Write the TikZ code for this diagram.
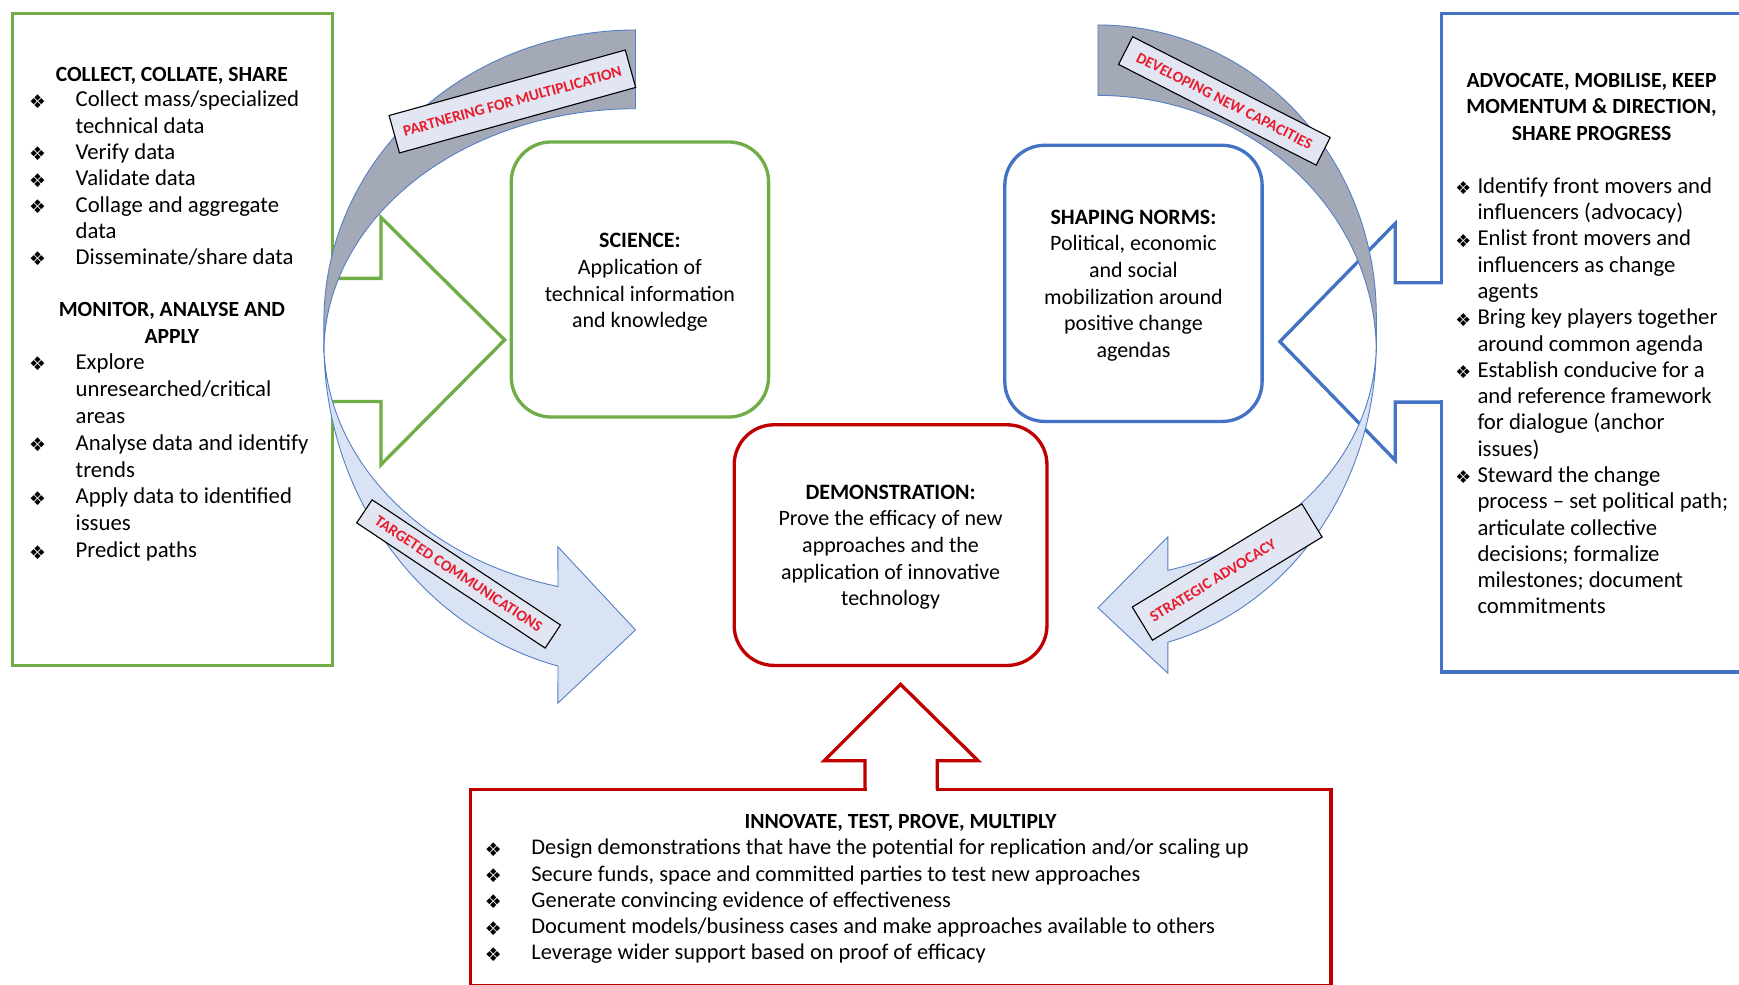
\documentclass[tikz,border=0pt]{standalone}
\usepackage{fontspec}
\setmainfont{Carlito}
\newfontfamily\symfont{DejaVu Sans}
\definecolor{cgreen}{RGB}{112,173,71}
\definecolor{cblue}{RGB}{68,114,196}
\definecolor{cred}{RGB}{192,0,0}
\definecolor{fblue}{RGB}{218,227,243}
\definecolor{fgray}{RGB}{163,169,183}
\definecolor{edgeblue}{RGB}{84,126,196}
\definecolor{lblfill}{RGB}{226,229,242}
\definecolor{lblred}{RGB}{232,28,44}
\newcommand\bul{\makebox[42pt][l]{\raisebox{-1.2pt}{\symfont\fontsize{17}{20}\selectfont ❖}}}
\newcommand\ind{\hspace*{42pt}}
\newcommand\bulr{\makebox[20pt][l]{\raisebox{-1.2pt}{\symfont\fontsize{16}{20}\selectfont ❖}}}
\newcommand\indr{\hspace*{20pt}}
\tikzset{
  bigbox/.style={draw=#1, line width=3pt, inner sep=0pt},
  rbox/.style={draw=#1, line width=3pt, rounded corners=36pt, align=center, inner sep=0pt,
    font=\fontsize{19.8}{24}\selectfont},
  hdr/.style={font=\bfseries\fontsize{19.5}{24}\selectfont, align=center, inner sep=0pt},
  lst/.style={font=\fontsize{20.5}{23.7}\selectfont, align=left, inner sep=0pt, anchor=north west},
  lbl/.style={draw=black, line width=1pt, fill=lblfill, inner sep=0pt, text=lblred,
    font=\bfseries\fontsize{14}{16}\selectfont},
  band/.style={draw=edgeblue, line width=0.8pt},
  blockarrow/.style={draw=#1, line width=3pt, line join=miter},
}
\begin{document}
\begin{tikzpicture}[x=1pt, y=-1pt]
\useasboundingbox (0,0) rectangle (1568,888);
\fill[white] (0,0) rectangle (1568,888);
\clip (0,0) rectangle (1568,888);

% big boxes
\node[bigbox=cgreen, minimum width=289, minimum height=588] (leftbox) at (155.5,306) {};
\node[bigbox=cblue, minimum width=270, minimum height=594] (rightbox) at (1435,309) {};
\node[bigbox=cred, minimum width=776, minimum height=177] (botbox) at (812,800.5) {};

% block arrows
\fill[white] (298,252.5) rectangle (302,360.5);
\draw[blockarrow=cgreen] (300,251) -- (343.5,251) -- (343.5,196) -- (455,306.5) -- (343.5,419) -- (343.5,362) -- (300,362);
\fill[white] (1298,256.5) rectangle (1302,361);
\draw[blockarrow=cblue] (1300,255) -- (1258,255) -- (1258,201.5) -- (1154,308) -- (1258,415) -- (1258,362.6) -- (1300,362.6);
\fill[white] (781.5,709) rectangle (843.5,715);
\draw[blockarrow=cred] (780,712) -- (780,686) -- (743,686) -- (812,617) -- (882,686) -- (845,686) -- (845,712);

% rounded boxes
\node[rbox=cgreen, minimum width=232, minimum height=248] (science) at (577,252)
  {\rule{0pt}{18.5pt}\textbf{SCIENCE:}\\Application of\\technical information\\and knowledge};
\node[rbox=cblue, minimum width=232, minimum height=249] (norms) at (1022,255.5)
  {\rule{0pt}{16.7pt}\textbf{SHAPING NORMS:}\\Political, economic\\and social\\mobilization around\\positive change\\agendas};
\node[rbox=cred, minimum width=282, minimum height=217] (demo) at (803,491.5)
  {\rule{0pt}{16.7pt}\textbf{DEMONSTRATION:}\\Prove the efficacy of new\\approaches and the\\application of innovative\\technology};

% curved arrows (left)
\path[band, fill=fblue] plot[domain=180:104.4, samples=50, variable=\t] ({573+281*cos(\t)},{309+227*sin(\t)})
  -- (503,493) -- (573,568) -- (503,634)
  -- plot[domain=104.4:180, samples=50, variable=\t] ({573+281*cos(\t)},{309+301*sin(\t)}) -- cycle;
\path[band, fill=fgray] plot[domain=270:180, samples=50, variable=\t] ({573+281*cos(\t)},{290+263*sin(\t)})
  -- plot[domain=180:270, samples=50, variable=\t] ({573+281*cos(\t)},{318+220*sin(\t)}) -- cycle;
% curved arrows (right)
\path[band, fill=fblue] plot[domain=0:75.46, samples=50, variable=\t] ({990+251*cos(\t)},{309+212*sin(\t)})
  -- (1053,484) -- (990,548) -- (1053,607)
  -- plot[domain=75.46:0, samples=50, variable=\t] ({990+251*cos(\t)},{309+279*sin(\t)}) -- cycle;
\path[band, fill=fgray] plot[domain=270:360, samples=50, variable=\t] ({990+251*cos(\t)},{285+262.5*sin(\t)})
  -- plot[domain=360:270, samples=50, variable=\t] ({990+251*cos(\t)},{318+232*sin(\t)}) -- cycle;

% labels on curved arrows
\node[lbl, minimum width=221, minimum height=35, rotate=15.5] (lab1) at (462,91.5) {PARTNERING FOR MULTIPLICATION};
\node[lbl, minimum width=200, minimum height=28, rotate=-27] (lab2) at (1104,91) {DEVELOPING NEW CAPACITIES};
\node[lbl, minimum width=204, minimum height=25, rotate=-33.6] (lab3) at (413.5,517.5) {TARGETED COMMUNICATIONS};
\node[lbl, minimum width=179, minimum height=35, rotate=31.3] (lab4) at (1106.5,515.8) {STRATEGIC ADVOCACY\hspace*{30pt}};

% left box texts
\node[hdr, anchor=base] (h1) at (155,73.3) {COLLECT, COLLATE, SHARE};
\node[lst] (l1) at (26,79.6) {\strut\bul Collect mass/specialized\\\ind technical data\\\bul Verify data\\\bul Validate data\\\bul Collage and aggregate\\\ind data\\\bul Disseminate/share data};
\node[hdr, anchor=north] (h2) at (155,268.5) {\strut MONITOR, ANALYSE AND\\APPLY};
\node[lst, font=\fontsize{20.5}{24.3}\selectfont] (l2) at (26,315.7) {\strut\bul Explore\\\ind unresearched/critical\\\ind areas\\\bul Analyse data and identify\\\ind trends\\\bul Apply data to identified\\\ind issues\\\bul Predict paths};

% right box texts
\node[hdr, anchor=north] (h3) at (1435,61.5) {\strut ADVOCATE, MOBILISE, KEEP\\MOMENTUM \& DIRECTION,\\SHARE PROGRESS};
\node[lst] (l3) at (1312,157.5) {\strut\bulr Identify front movers and\\\indr influencers (advocacy)\\\bulr Enlist front movers and\\\indr influencers as change\\\indr agents\\\bulr Bring key players together\\\indr around common agenda\\\bulr Establish conducive for a\\\indr and reference framework\\\indr for dialogue (anchor\\\indr issues)\\\bulr Steward the change\\\indr process – set political path;\\\indr articulate collective\\\indr decisions; formalize\\\indr milestones; document\\\indr commitments};

% bottom box texts
\node[hdr, anchor=base] (h4) at (812,747.3) {INNOVATE, TEST, PROVE, MULTIPLY};
\node[lst, font=\fontsize{20.2}{23.7}\selectfont] (l4) at (437,754) {\strut\bul Design demonstrations that have the potential for replication and/or scaling up\\\bul Secure funds, space and committed parties to test new approaches\\\bul Generate convincing evidence of effectiveness\\\bul Document models/business cases and make approaches available to others\\\bul Leverage wider support based on proof of efficacy};
\end{tikzpicture}
\end{document}
